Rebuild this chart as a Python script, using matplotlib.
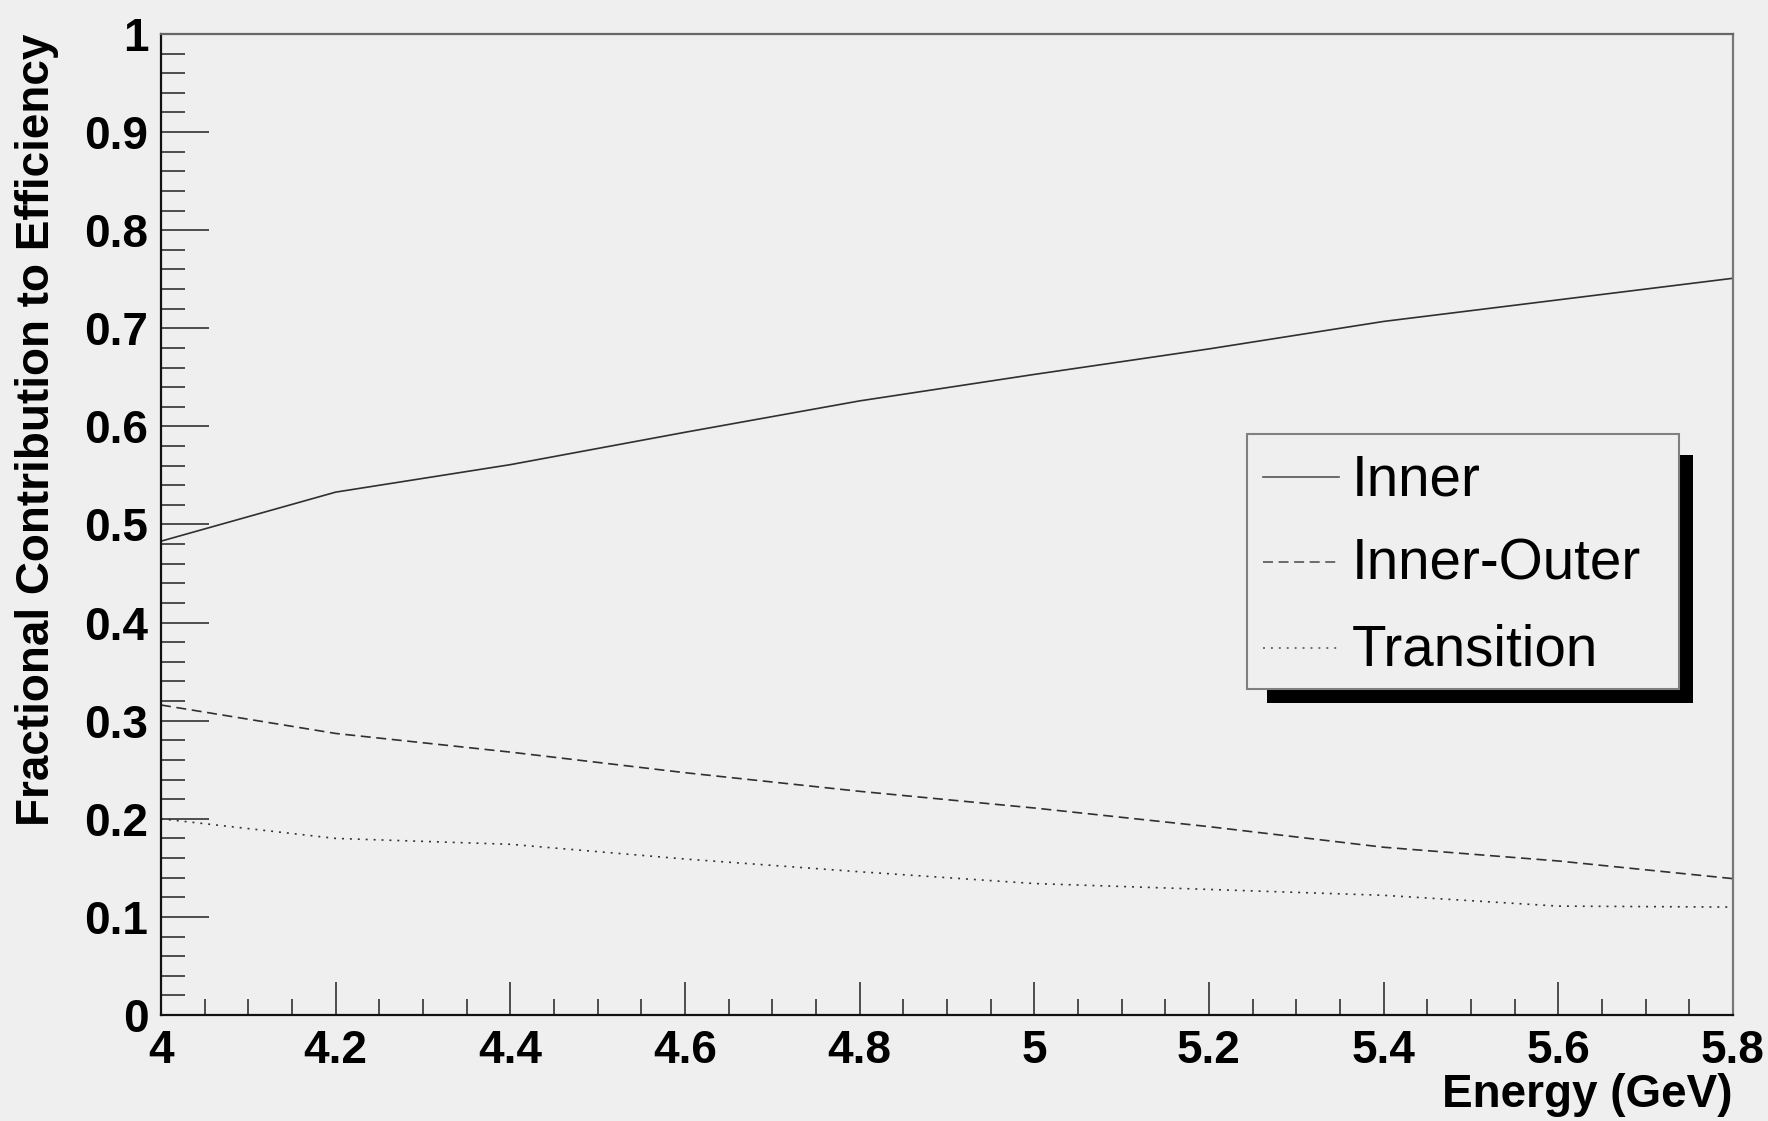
import matplotlib
matplotlib.use("Agg")
import matplotlib.pyplot as plt
from matplotlib.ticker import MultipleLocator, FuncFormatter
from matplotlib.patches import Rectangle
from matplotlib.lines import Line2D

# ---- data ----
energy = [4.0, 4.2, 4.4, 4.6, 4.8, 5.0, 5.2, 5.4, 5.6, 5.8]
inner = [0.483, 0.533, 0.561, 0.594, 0.626, 0.653, 0.679, 0.707, 0.729, 0.751]
inner_outer = [0.316, 0.287, 0.268, 0.247, 0.228, 0.211, 0.192, 0.171, 0.157, 0.139]
transition = [0.200, 0.180, 0.174, 0.159, 0.146, 0.134, 0.128, 0.122, 0.111, 0.110]
labels = ["Inner", "Inner-Outer", "Transition"]
xlabel = "Energy (GeV)"
ylabel = "Fractional Contribution to Efficiency"

plt.rcParams['lines.scale_dashes'] = False
BG = '#efefef'
LC = '#303030'
W, H = 1768, 1121
FS = 33

fig = plt.figure(figsize=(W / 100, H / 100), dpi=100, facecolor=BG)
ax = fig.add_axes([161 / W, 1 - 1015 / H, (1733 - 161) / W, (1015 - 34) / H])
ax.set_facecolor(BG)

styles = [dict(linestyle='-'),
          dict(linestyle=(0, (7.2, 4.0))),
          dict(linestyle=(0, (1.4, 4.3)))]
series = [inner, inner_outer, transition]
for ys, st in zip(series, styles):
    ax.plot(energy, ys, color=LC, lw=1.2, **st)

ax.set_xlim(4.0, 5.8)
ax.set_ylim(0, 1)

fmt = FuncFormatter(lambda v, p: f"{v:g}")
ax.xaxis.set_major_locator(MultipleLocator(0.2))
ax.xaxis.set_minor_locator(MultipleLocator(0.05))
ax.yaxis.set_major_locator(MultipleLocator(0.1))
ax.yaxis.set_minor_locator(MultipleLocator(0.02))
ax.xaxis.set_major_formatter(fmt)
ax.yaxis.set_major_formatter(fmt)

ax.tick_params(axis='x', which='major', direction='in', length=24, width=1.1,
               color='#222222', pad=10, labelsize=FS)
ax.tick_params(axis='x', which='minor', direction='in', length=11.5, width=1.1,
               color='#222222')
ax.tick_params(axis='y', which='major', direction='in', length=34.5, width=1.1,
               color='#222222', pad=9, labelsize=FS)
ax.tick_params(axis='y', which='minor', direction='in', length=17, width=1.1,
               color='#222222')
ax.tick_params(top=False, right=False, which='both')
for lab in ax.get_xticklabels() + ax.get_yticklabels():
    lab.set_fontfamily('Liberation Sans')
    lab.set_fontweight('bold')

ax.spines['left'].set_color('#111111')
ax.spines['bottom'].set_color('#111111')
ax.spines['top'].set_color('#666666')
ax.spines['right'].set_color('#777777')
for s in ax.spines.values():
    s.set_linewidth(1.6)

ax.set_xlabel(xlabel, fontsize=FS, fontweight='bold', family='Liberation Sans',
              loc='right')
ax.xaxis.set_label_coords(1.0, -(1073 - 1015) / (1015 - 34))
ax.set_ylabel(ylabel, fontsize=FS, fontweight='bold', family='Liberation Sans',
              loc='top')
ax.yaxis.set_label_coords(-(161 - 59) / (1733 - 161), 1.0)

# ---- legend (ROOT-style box with shadow) ----
def fx(px):
    return px / W

def fy(py):
    return 1 - py / H

bx0, bx1, by0, by1 = 1247, 1679, 434, 689
sx0, sx1, sy0, sy1 = 1267, 1693, 455, 703
fig.add_artist(Rectangle((fx(sx0), fy(sy1)), fx(sx1 - sx0), (sy1 - sy0) / H,
                         transform=fig.transFigure, facecolor='black',
                         edgecolor='black', lw=0, zorder=5))
fig.add_artist(Rectangle((fx(bx0), fy(by1)), fx(bx1 - bx0), (by1 - by0) / H,
                         transform=fig.transFigure, facecolor=BG,
                         edgecolor='#808080', lw=1.5, zorder=6))
rows_c = [477, 562, 648]
rows_b = [495, 580, 665]
for lab, st, yc, yb in zip(labels, styles, rows_c, rows_b):
    fig.add_artist(Line2D([fx(1263), fx(1339)], [fy(yc), fy(yc)],
                          transform=fig.transFigure, color='#555555', lw=1.2,
                          zorder=7, **st))
    fig.text(fx(1352), fy(yb), lab, fontsize=40.8, family='Liberation Sans',
             va='baseline', ha='left', color='black', zorder=7)

fig.savefig("out.png", dpi=100, facecolor=BG)
